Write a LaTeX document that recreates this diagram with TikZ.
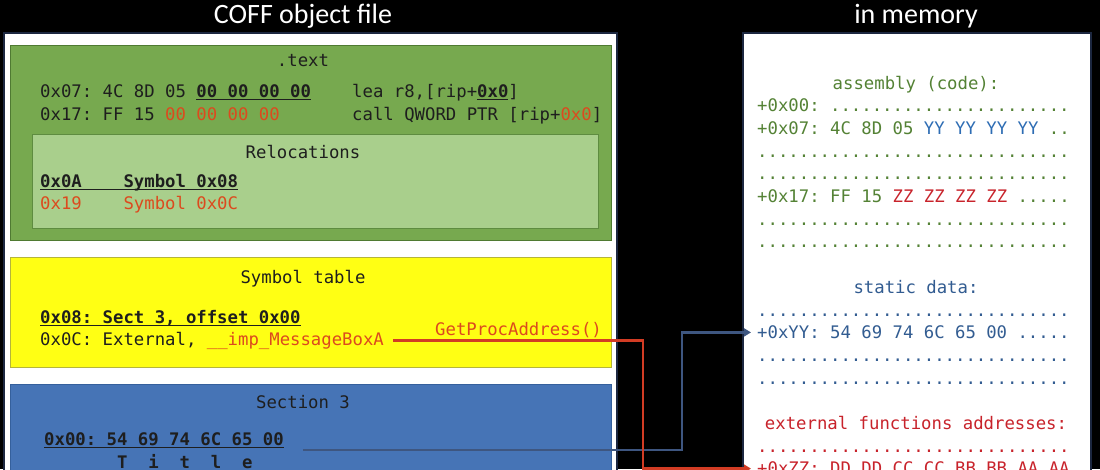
\documentclass[tikz,border=0pt]{standalone}
\usepackage{fontspec}
\setmonofont{DejaVu Sans Mono}
\newfontfamily\titlefont{Carlito}
\usetikzlibrary{arrows.meta}
\definecolor{ink}{HTML}{1E1E1E}
\definecolor{lred}{HTML}{DC4A1E}
\definecolor{textfill}{HTML}{77A94F}
\definecolor{textborder}{HTML}{4F7A32}
\definecolor{relocfill}{HTML}{A9CF8C}
\definecolor{relocborder}{HTML}{5E8C40}
\definecolor{symfill}{HTML}{FFFF14}
\definecolor{symborder}{HTML}{B5B53A}
\definecolor{secfill}{HTML}{4674B6}
\definecolor{secborder}{HTML}{35609C}
\definecolor{panelline}{HTML}{1C2740}
\definecolor{asmgreen}{HTML}{548235}
\definecolor{yyblue}{HTML}{2E6DB4}
\definecolor{sblue}{HTML}{325C91}
\definecolor{mred}{HTML}{C8232B}
\definecolor{redline}{HTML}{D23C24}
\definecolor{blueline}{HTML}{3E5680}
\newcommand\undl[1]{\setbox0\hbox{#1}\leavevmode\rlap{\rule[-2.8pt]{\wd0}{1.3pt}}\box0}
\newcommand\memdots{..............................}

\begin{document}
\begin{tikzpicture}[x=1pt,y=-1pt,
  code/.style={font=\ttfamily\fontsize{17.3}{20}\selectfont,inner sep=0pt,text=ink},
  lt/.style={code,anchor=base west},
  ct/.style={code,anchor=base},
  heading/.style={font=\titlefont\fontsize{28}{30}\selectfont,text=white,anchor=base},
  link/.style={line width=2.4pt,-{Triangle[length=7pt,width=8pt]}}]
  \useasboundingbox (0,0) rectangle (1100,469);
  \clip (0,0) rectangle (1100,469);
  \fill[black] (0,0) rectangle (1100,469);
  \node[heading] (coff) at (303,23) {COFF object file};
  \node[heading] (mem) at (916,23) {in memory};
  \draw[panelline,fill=white,line width=1.2pt] (4,33) rectangle (617,480);
  \draw[panelline,fill=white,line width=1.2pt] (743,33) rectangle (1091,480);
  \draw[textborder,fill=textfill] (10,45) rectangle (611,240);
  \draw[relocborder,fill=relocfill] (32,134) rectangle (598,228);
  \draw[symborder,fill=symfill] (10,257) rectangle (611,367);
  \draw[secborder,fill=secfill] (10,384) rectangle (611,480);

  \node[ct] (textsec) at (303,66) {.text};
  \node[lt] (lea) at (40,97) {0x07: 4C 8D 05 \undl{\textbf{00 00 00 00}}};
  \node[lt] (leaop) at (352,97) {lea r8,[rip+\undl{\textbf{0x0}}]};
  \node[lt] (call) at (40,120) {0x17: FF 15 \textcolor{lred}{00 00 00 00}};
  \node[lt] (callop) at (352,120) {call QWORD PTR [rip+\textcolor{lred}{0x0}]};
  \node[ct] (reloc) at (303,158) {Relocations};
  \node[lt] (rel1) at (40,187) {\undl{\textbf{0x0A~~~~Symbol~0x08}}};
  \node[lt,text=lred] (rel2) at (40,209) {0x19~~~~Symbol 0x0C};
  \node[ct] (symtab) at (303,283) {Symbol table};
  \node[lt] (sym1) at (40,323) {\undl{\textbf{0x08: Sect 3, offset 0x00}}};
  \node[lt] (ext) at (40,345) {0x0C: External, \textcolor{lred}{\_\_imp\_MessageBoxA}};
  \node[lt,text=lred] (gpa) at (435,335) {GetProcAddress()};
  \node[ct] (sec3) at (303,408) {Section 3};
  \node[lt] (title) at (44,445) {\undl{\textbf{0x00: 54 69 74 6C 65 00}}};
  \node[lt] (chars) at (44,468) {\textbf{~~~~~~~T~~i~~t~~l~~e}};

  \node[ct,text=asmgreen] (asm) at (916,89) {assembly (code):};
  \node[ct,text=sblue] (static) at (916,293.3) {static data:};
  \node[ct,text=mred] (extern) at (916,429.5) {external functions addresses:};
  \foreach \k/\txt/\col in {
    1/{+0x00: .......................}/asmgreen,
    2/{+0x07: 4C 8D 05 \textcolor{yyblue}{YY YY YY YY} ..}/asmgreen,
    3/{\memdots}/asmgreen, 4/{\memdots}/asmgreen,
    5/{+0x17: FF 15 \textcolor{mred}{ZZ ZZ ZZ ZZ} .....}/asmgreen,
    6/{\memdots}/asmgreen, 7/{\memdots}/asmgreen,
    10/{\memdots}/sblue,
    11/{+0xYY: 54 69 74 6C 65 00 .....}/sblue,
    12/{\memdots}/sblue, 13/{\memdots}/sblue,
    16/{\memdots}/mred,
    17/{+0xZZ: DD DD CC CC BB BB AA AA}/mred}
    \node[lt,text=\col] (m\k) at (757,89+22.7*\k) {\txt};

  \draw[link,blueline] ([xshift=19pt,yshift=-2pt]title.south east) -- ++(379,0) |- ([xshift=-6pt]m11.west);
  \draw[link,redline] ([xshift=9pt]ext.east) -- ++(250,0) |- ([xshift=-6pt]m17.west);
\end{tikzpicture}
\end{document}
